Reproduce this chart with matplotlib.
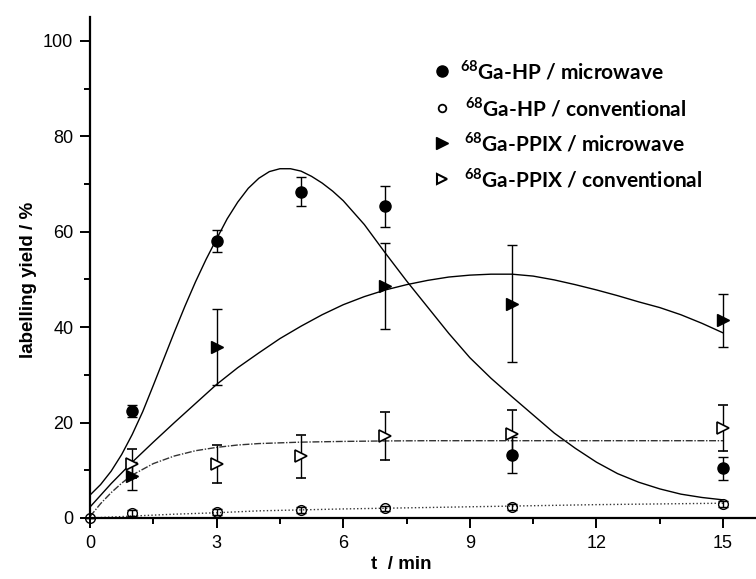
import matplotlib.pyplot as plt
from matplotlib.ticker import MultipleLocator

plt.rcParams['mathtext.fontset'] = 'custom'
plt.rcParams['mathtext.bf'] = 'Lato:bold'
plt.rcParams['mathtext.rm'] = 'Lato:bold'

# measured points (t / min, labelling yield / %, error)
t_hp_mw = [1, 3, 5, 7, 10, 15]
y_hp_mw = [22.4, 58.1, 68.4, 65.3, 13.2, 10.4]
e_hp_mw = [1.3, 2.3, 3.1, 4.3, 3.8, 2.4]

t_hp_conv = [0, 1, 3, 5, 7, 10, 15]
y_hp_conv = [0.0, 1.0, 1.2, 1.7, 2.0, 2.3, 2.9]
e_hp_conv = [0.0, 0.6, 0.6, 0.6, 0.6, 0.6, 0.6]

t_pp_mw = [1, 3, 7, 10, 15]
y_pp_mw = [8.8, 35.8, 48.7, 44.9, 41.4]
e_pp_mw = [3.0, 8.0, 9.0, 12.3, 5.5]

t_pp_conv = [1, 3, 5, 7, 10, 15]
y_pp_conv = [11.4, 11.3, 12.9, 17.2, 17.6, 18.9]
e_pp_conv = [3.0, 4.0, 4.5, 5.0, 5.0, 4.8]

# fitted curves
fit_hp_mw_t = [0, 0.25, 0.5, 0.75, 1, 1.25, 1.5, 1.75, 2, 2.25, 2.5, 2.75, 3,
               3.25, 3.5, 3.75, 4, 4.25, 4.5, 4.75, 5, 5.25, 5.5, 5.75, 6,
               6.5, 7, 7.5, 8, 8.5, 9, 9.5, 10, 10.5, 11, 11.5, 12, 12.5, 13,
               13.5, 14, 14.5, 15]
fit_hp_mw = [4.8, 7.0, 9.8, 13.3, 17.5, 22.3, 27.8, 33.4, 39.0, 44.4, 49.5,
             54.2, 58.5, 62.7, 66.2, 69.1, 71.2, 72.6, 73.2, 73.2, 72.7, 71.6,
             70.2, 68.5, 66.5, 61.5, 55.5, 49.7, 44.2, 38.7, 33.6, 29.3, 25.4,
             21.6, 17.8, 14.6, 11.7, 9.3, 7.5, 6.1, 5.0, 4.3, 3.8]
fit_pp_mw_t = [0, 0.5, 1, 1.5, 2, 2.5, 3, 3.5, 4, 4.5, 5, 5.5, 6, 6.5, 7, 7.5,
               8, 8.5, 9, 9.5, 10, 10.5, 11, 11.5, 12, 12.5, 13, 13.5, 14,
               14.5, 15]
fit_pp_mw = [2.3, 7.2, 11.7, 15.9, 20.0, 24.0, 28.0, 31.5, 34.6, 37.6, 40.2,
             42.6, 44.7, 46.4, 47.8, 48.9, 49.8, 50.5, 50.9, 51.1, 51.1, 50.7,
             49.9, 48.9, 47.8, 46.6, 45.3, 44.1, 42.6, 40.8, 38.8]
fit_pp_conv_t = [0, 0.25, 0.5, 0.75, 1, 1.5, 2, 2.5, 3, 3.5, 4, 5, 6, 7, 8, 15]
fit_pp_conv = [0.3, 3.0, 5.3, 7.3, 9.0, 11.4, 13.0, 14.1, 14.8, 15.3, 15.6,
               15.9, 16.05, 16.15, 16.2, 16.2]
fit_hp_conv_t = [0, 1, 2, 3, 4, 5, 6, 7, 8, 9, 10, 11, 12, 13, 14, 15]
fit_hp_conv = [0.0, 0.4, 0.8, 1.1, 1.5, 1.7, 1.9, 2.05, 2.2, 2.35, 2.5, 2.65,
               2.8, 2.9, 3.0, 3.1]

labels = [r'$^{\mathbf{68}}$Ga-HP / microwave',
          r'$^{\mathbf{68}}$Ga-HP / conventional',
          r'$^{\mathbf{68}}$Ga-PPIX / microwave',
          r'$^{\mathbf{68}}$Ga-PPIX / conventional']

fig = plt.figure(figsize=(7.56, 5.79), dpi=100)
ax = fig.add_axes([90 / 756, 61 / 579, 666 / 756, 501 / 579])

ax.plot(fit_hp_mw_t, fit_hp_mw, color='black', lw=1.0)
ax.plot(fit_pp_mw_t, fit_pp_mw, color='black', lw=1.0)
ax.plot(fit_pp_conv_t, fit_pp_conv, color='#333333', lw=1.0, ls=(0, (5, 1.2, 1, 1.2)))
ax.plot(fit_hp_conv_t, fit_hp_conv, color='#333333', lw=1.0, ls=(0, (1, 1.6)))

eb = dict(color='black', ecolor='black', elinewidth=1.0, capsize=3.6,
          capthick=1.0, ls='none', clip_on=False)
ax.errorbar(t_hp_conv, y_hp_conv, yerr=e_hp_conv, fmt='o', ms=7, mfc='none',
            mec='black', mew=1.0, **eb)
ax.errorbar(t_pp_conv, y_pp_conv, yerr=e_pp_conv, fmt='>', ms=8.5, mfc='white',
            mec='black', mew=1.2, **eb)
ax.errorbar(t_pp_mw, y_pp_mw, yerr=e_pp_mw, fmt='>', ms=8.5, mfc='black',
            mec='black', **eb)
ax.errorbar(t_hp_mw, y_hp_mw, yerr=e_hp_mw, fmt='o', ms=8, mfc='black',
            mec='black', **eb)

# legend, placed by hand
leg_y = [0.893, 0.819, 0.749, 0.677]
leg_mk = [dict(marker='o', ms=8, mfc='black', mec='black'),
          dict(marker='o', ms=5.5, mfc='none', mec='black', mew=1.3),
          dict(marker='>', ms=9, mfc='black', mec='black'),
          dict(marker='>', ms=7, mfc='white', mec='black', mew=1.5)]
leg_tx = [0.555, 0.563, 0.562, 0.562]
for yy, mk, tx, lab in zip(leg_y, leg_mk, leg_tx, labels):
    ax.plot([0.529], [yy], transform=ax.transAxes, clip_on=False, ls='none', **mk)
    ax.text(tx, yy, lab, transform=ax.transAxes, fontsize=15,
            family='Lato', fontweight='bold', va='center', ha='left')

ax.set_xlim(0, 15.78)
ax.set_ylim(0, 105)
ax.xaxis.set_major_locator(MultipleLocator(3))
ax.xaxis.set_minor_locator(MultipleLocator(1.5))
ax.yaxis.set_major_locator(MultipleLocator(20))
ax.yaxis.set_minor_locator(MultipleLocator(10))
ax.set_yticks([0, 20, 40, 60, 80, 100])

for s in ['top', 'right']:
    ax.spines[s].set_visible(False)
for s in ['left', 'bottom']:
    ax.spines[s].set_linewidth(1.6)
ax.tick_params(which='major', length=7, width=1.4, labelsize=13, direction='out')
ax.tick_params(which='minor', length=4, width=1.4, direction='out')
ax.tick_params(axis='x', which='major', pad=5)
ax.tick_params(axis='y', which='major', pad=5)
for lab in ax.get_xticklabels() + ax.get_yticklabels():
    lab.set_family('Liberation Sans')

ax.set_xlabel('t  / min', fontsize=13.5, fontweight='bold', family='Liberation Sans')
ax.set_ylabel('labelling yield / %', fontsize=13.5, fontweight='bold',
              family='Liberation Sans')
ax.xaxis.set_label_coords(0.468, -0.075)
ax.yaxis.set_label_coords(-0.08, 0.475)

fig.savefig('out.png', dpi=100)
